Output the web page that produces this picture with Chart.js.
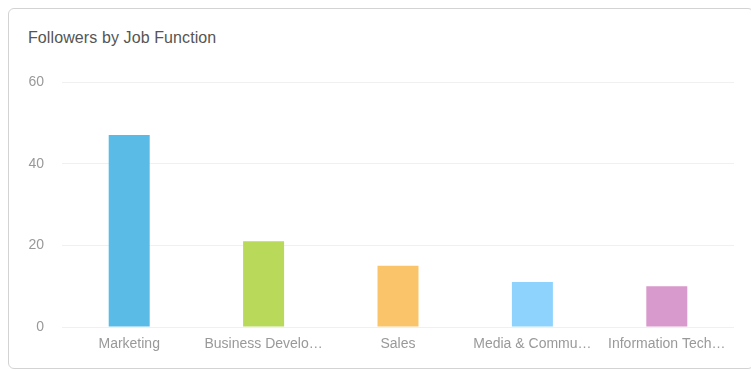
<!DOCTYPE html>
<html>
<head>
<meta charset="utf-8">
<script src="https://cdn.jsdelivr.net/npm/chart.js@4"></script>
<style>
  html, body { margin: 0; padding: 0; background: #fff; }
  body { width: 751px; height: 370px; position: relative; overflow: hidden; font-family: "Liberation Sans", Arial, sans-serif; }
  .card {
    position: absolute; left: 8px; top: 8px; width: 746px; height: 361px;
    border: 1px solid #d3d3d3; border-radius: 6px; box-sizing: border-box; background: #fff;
  }
  .card h2 {
    position: absolute; left: 19px; top: 20px; margin: 0;
    font-size: 16px; font-weight: normal; color: #555; letter-spacing: 0.1px;
  }
  #wrap { position: absolute; left: 0; top: 0; width: 751px; height: 370px; }
</style>
</head>
<body>
<div class="card"><h2>Followers by Job Function</h2></div>
<div id="wrap"><canvas id="chart"></canvas></div>
<script>
// Job functions shown on the x axis (long names are shortened with an ellipsis)
const categories = ["Marketing", "Business Develo…", "Sales", "Media & Commu…", "Information Tech…"];
// Follower counts per job function
const followers = [47, 21, 15, 11, 10];
// Bar fill per job function
const barColors = ["#5bbbe7", "#b8d95a", "#f9c46a", "#8dd3fe", "#d899cc"];
// Value axis ticks
const yTicks = [0, 20, 40, 60];

new Chart(document.getElementById("chart"), {
  type: "bar",
  data: {
    labels: categories,
    datasets: [{
      data: followers,
      backgroundColor: barColors,
      borderWidth: 0,
      categoryPercentage: 1,
      barPercentage: 0.305
    }]
  },
  options: {
    responsive: true,
    maintainAspectRatio: false,
    animation: false,
    layout: { padding: { top: 82, right: 17, left: 0, bottom: 0 } },
    plugins: { legend: { display: false }, tooltip: { enabled: false } },
    scales: {
      x: {
        grid: { display: false, drawTicks: false },
        border: { display: false },
        ticks: {
          color: "#999",
          font: { family: "'Liberation Sans', Arial, sans-serif", size: 14 },
          padding: 9,
          maxRotation: 0,
          autoSkip: false
        },
        afterFit(scale) { scale.height = 43; }
      },
      y: {
        min: 0,
        max: 60,
        afterBuildTicks(scale) { scale.ticks = yTicks.map(v => ({ value: v })); },
        grid: { color: "#f0f0f0", drawTicks: false, lineWidth: 1 },
        border: { display: false },
        ticks: {
          color: "#999",
          font: { family: "'Liberation Sans', Arial, sans-serif", size: 14 },
          padding: 18
        },
        afterFit(scale) { scale.width = 62; }
      }
    }
  }
});
</script>
</body>
</html>
